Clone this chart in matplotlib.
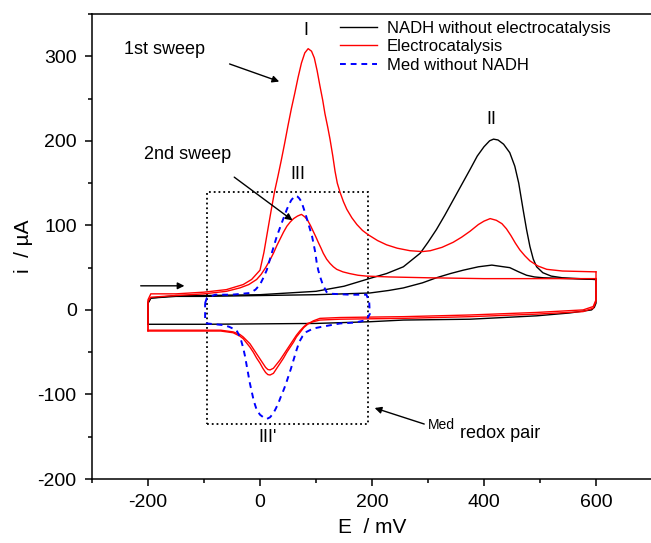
import matplotlib
matplotlib.use("Agg")
import matplotlib.pyplot as plt
from matplotlib.patches import Rectangle
from matplotlib.ticker import MultipleLocator

plt.rcParams['font.family'] = ['Liberation Sans', 'DejaVu Sans']
plt.rcParams['axes.unicode_minus'] = False

# NADH without electrocatalysis (black), 1st sweep forward
blk_f1_E = [-200, -200, -195, -150, -100, 0, 100, 150, 200, 226, 256, 286, 300, 315, 330, 345, 360, 375, 388, 400, 410, 417, 425, 435, 446, 455, 462, 470, 476, 482, 488, 494, 505, 520, 540, 570, 600]
blk_f1_i = [-17, 8, 14, 17, 17, 18, 22, 28, 38, 43, 51, 67, 80, 95, 112, 130, 148, 166, 182, 193, 200, 202, 201, 196, 186, 170, 150, 118, 95, 75, 60, 51, 44, 40, 38, 37, 36]
# 2nd sweep forward
blk_f2_E = [-200, -200, -195, -150, -100, 0, 100, 150, 196, 230, 256, 290, 315, 340, 363, 390, 414, 435, 446, 462, 476, 490, 506, 553, 600]
blk_f2_i = [-17, 8, 14, 16, 16, 17, 18, 19, 20, 23, 26, 32, 38, 43, 47, 51, 53, 51, 50, 45, 41, 39, 38, 37, 36]
# reverse
blk_r_E = [600, 600, 597, 592, 553, 494, 375, 256, 196, 100, 0, -100, -200]
blk_r_i = [36, 8, 3, 0, -3.6, -7, -11, -12, -14, -16, -16.5, -17, -17]

# Electrocatalysis (red), 1st sweep forward
red_f1_E = [-200, -200, -195, -150, -100, -60, -30, -15, 0, 7, 14, 20, 26, 32, 38, 44, 50, 56, 62, 68, 74, 80, 86, 92, 97, 102, 107, 112, 116, 121, 125, 130, 134, 138, 143, 149, 155, 164, 173, 183, 193, 210, 226, 245, 268, 290, 304, 325, 345, 360, 375, 390, 400, 411, 422, 432, 440, 448, 456, 464, 473, 482, 496, 512, 540, 600]
red_f1_i = [-25, 12, 19, 19, 21, 24, 30, 36, 47, 68, 95, 118, 140, 158, 177, 197, 218, 238, 256, 275, 292, 304, 309, 306, 298, 283, 265, 248, 232, 216, 202, 182, 164, 150, 139, 128, 119, 109, 101, 94, 89, 82, 77, 73, 70, 69, 70, 74, 80, 86, 93, 101, 105, 108, 106, 102, 96, 88, 79, 71, 64, 58, 52, 48, 46, 45]
# 2nd sweep forward
red_f2_E = [-200, -200, -195, -150, -100, -60, -36, -20, -6, 2, 10, 17, 24, 30, 36, 42, 48, 54, 60, 67, 74, 80, 85, 90, 95, 100, 104, 109, 113, 119, 125, 131, 137, 148, 160, 175, 190, 230, 300, 400, 500, 600]
red_f2_i = [-24, 10, 15, 17, 19, 22, 26, 30, 36, 42, 50, 58, 67, 76, 84, 92, 99, 104, 108, 111, 113, 110, 106, 100, 93, 86, 80, 73, 67, 60, 55, 51, 48, 45, 43, 41, 40, 39, 38, 37, 37, 37]
# reverse sweeps
red_r1_E = [600, 600, 595, 577, 494, 375, 256, 196, 143, 107, 95, 85, 78, 71, 65, 60, 54, 48, 42, 36, 30, 24, 18, 14, 10, 5, 0, -6, -12, -18, -24, -30, -36, -48, -70, -100, -200]
red_r1_i = [45, 12, 4, 0, -3, -6, -8, -8.5, -9, -10, -13, -17, -21, -27, -32, -38, -44, -50, -57, -63, -69, -75, -77, -76.5, -74, -69, -63, -57, -50, -44, -39, -34, -31, -27, -25, -25, -25]
red_r2_E = [600, 600, 595, 577, 494, 375, 256, 196, 143, 107, 95, 85, 78, 71, 65, 60, 54, 48, 42, 36, 30, 24, 18, 14, 10, 5, 0, -6, -12, -18, -24, -30, -36, -48, -70, -100, -200]
red_r2_i = [37, 10, 2, -2, -5, -8, -10, -10.5, -11, -12, -14, -16, -20, -25, -30, -35, -41, -47, -53, -59, -64, -69, -71, -70.5, -68, -63, -58, -52, -46, -40, -36, -32, -29, -26, -24, -24, -24]

# Med without NADH (blue dashed), closed loop
blue_E = [-98, -95, -80, -50, -18, -8, 0, 6, 12, 16, 20, 25, 30, 35, 40, 44, 48, 52, 56, 60, 63, 67, 70, 74, 77, 81, 85, 89, 93, 96, 99, 101, 104, 108, 112, 116, 119, 125, 130, 160, 190, 195, 196,
          190, 170, 143, 110, 95, 83, 76, 70, 65, 60, 55, 50, 46, 42, 37, 33, 28, 24, 18, 12, 6, 0, -3, -6, -9, -12, -15, -18, -21, -24, -27, -30, -35, -42, -55, -65, -80, -95, -98, -98]
blue_i = [8, 14, 18, 18, 20, 24, 30, 38, 47, 56, 65, 76, 87, 96, 105, 112, 119, 125, 130, 133, 135, 134, 132, 128, 122, 114, 105, 96, 87, 77, 67, 57, 47, 38, 30, 25, 21, 20, 19, 18, 18, 10, -5,
          -12, -15, -16, -20, -22, -26, -31, -38, -48, -59, -70, -80, -88, -95, -103, -110, -117, -122, -127, -129, -127, -124, -121, -118, -112, -105, -96, -87, -76, -65, -54, -45, -33, -24, -20, -18, -17, -16, -10, 8]

labels = ["NADH without electrocatalysis", "Electrocatalysis", "Med without NADH"]

fig = plt.figure(figsize=(6.51, 5.43), dpi=100)
ax = fig.add_axes([92 / 651, 64 / 543, 560 / 651, 465 / 543])

lw = 1.0
ax.plot(blk_f1_E, blk_f1_i, color='black', lw=lw, label=labels[0])
ax.plot(blk_f2_E, blk_f2_i, color='black', lw=lw)
ax.plot(blk_r_E, blk_r_i, color='black', lw=lw)
ax.plot(red_f1_E, red_f1_i, color='#ff0000', lw=lw, label=labels[1])
ax.plot(red_f2_E, red_f2_i, color='#ff0000', lw=lw)
ax.plot(red_r1_E, red_r1_i, color='#ff0000', lw=lw)
ax.plot(red_r2_E, red_r2_i, color='#ff0000', lw=lw)
ax.plot(blue_E, blue_i, color='#0000ff', lw=1.4, ls=(0, (3, 2.5)), label=labels[2])

# dotted box around Med redox pair
ax.add_patch(Rectangle((-95, -135), 288, 275, fill=False, ls=':', lw=1.3, color='black'))

ax.set_xlim(-300, 700)
ax.set_ylim(-200, 350)
ax.xaxis.set_major_locator(MultipleLocator(200))
ax.xaxis.set_minor_locator(MultipleLocator(100))
ax.yaxis.set_major_locator(MultipleLocator(100))
ax.yaxis.set_minor_locator(MultipleLocator(50))
ax.tick_params(which='major', direction='out', length=5, width=1.1, labelsize=14, pad=6)
ax.tick_params(which='minor', direction='out', length=3, width=1.1)
for s in ax.spines.values():
    s.set_linewidth(1.1)

ax.set_xlabel("E  / mV", fontsize=15, labelpad=5)
ax.set_ylabel("i  / µA", fontsize=15, labelpad=3)

ax.legend(loc='upper left', bbox_to_anchor=(0.443, 0.985), frameon=False, fontsize=12,
          handlelength=2.2, handletextpad=0.6, labelspacing=0.2, borderpad=0, borderaxespad=0)

txt = dict(fontsize=13, ha='center', va='center')
ax.text(-171, 308, "1st sweep", **txt)
ax.text(-129, 184, "2nd sweep", **txt)
ax.text(82, 330, "I", **txt)
ax.text(414, 225, "II", **txt)
ax.text(68, 160, "III", **txt)
ax.text(14, -151, "III'", **txt)
ax.text(299, -136, "Med", fontsize=10, ha='left', va='center')
ax.text(357, -146, "redox pair", fontsize=13, ha='left', va='center')

arr = dict(arrowstyle='-|>', color='black', lw=1.0, mutation_scale=10)
ax.annotate("", xy=(39, 269), xytext=(-59, 292), arrowprops=arr)
ax.annotate("", xy=(62, 104), xytext=(-50, 159), arrowprops=arr)
ax.annotate("", xy=(-130, 28.5), xytext=(-218, 28.5), arrowprops=arr)
ax.annotate("", xy=(200, -115), xytext=(298, -136), arrowprops=arr)

fig.savefig("out.png", dpi=100)
